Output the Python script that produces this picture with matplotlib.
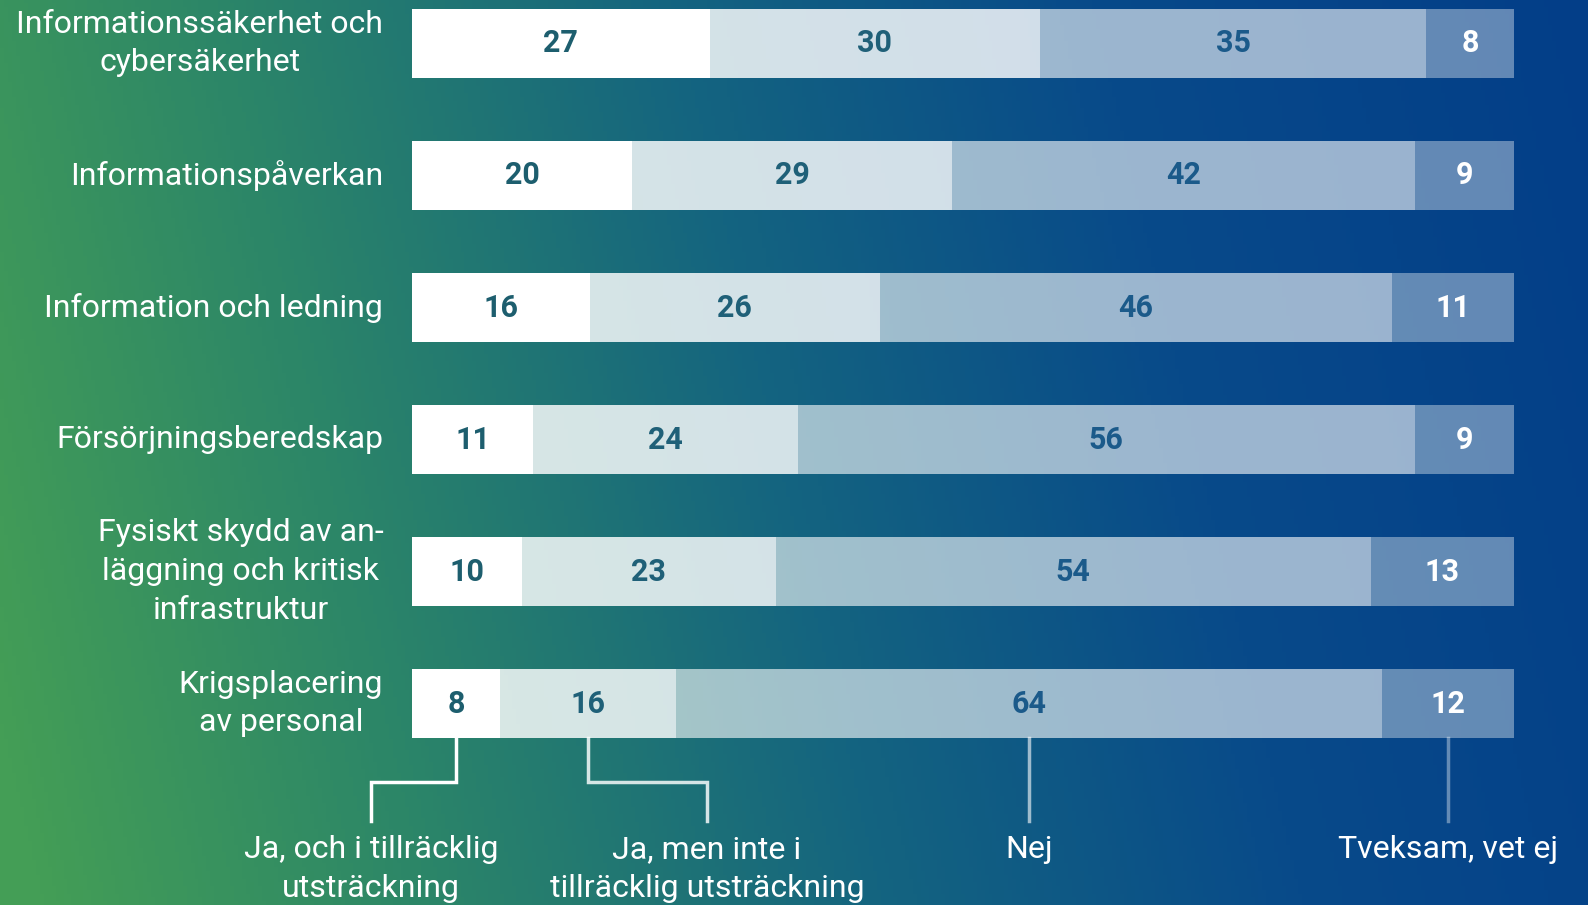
import numpy as np
import matplotlib.pyplot as plt
from matplotlib.colors import LinearSegmentedColormap

plt.rcParams['font.family'] = ['Roboto', 'DejaVu Sans']

# Data
categories = [
    "Informationssäkerhet och\ncybersäkerhet",
    "Informationspåverkan",
    "Information och ledning",
    "Försörjningsberedskap",
    "Fysiskt skydd av an-\nläggning och kritisk\ninfrastruktur",
    "Krigsplacering\nav personal",
]
ja_och = [27, 20, 16, 11, 10, 8]
ja_men = [30, 29, 26, 24, 23, 16]
nej = [35, 42, 46, 56, 54, 64]
tveksam = [8, 9, 11, 9, 13, 12]
series_names = ["Ja, och i tillräcklig\nutsträckning", "Ja, men inte i\ntillräcklig utsträckning",
                "Nej", "Tveksam, vet ej"]

# Styles: segments are white with decreasing opacity over the background
seg_alpha = [1.0, 0.82, 0.6, 0.38]
num_colors = ["#1d5e6e", "#1f6078", "#1b5a8a", "white"]

W, H = 1588, 905
fig = plt.figure(figsize=(W / 100, H / 100), dpi=100)

# background gradient
bg = fig.add_axes([0, 0, 1, 1])
bg_cmap = LinearSegmentedColormap.from_list("bg", [
    (0.0, (68/255, 158/255, 86/255)),
    (0.22, (44/255, 134/255, 104/255)),
    (0.48, (20/255, 100/255, 128/255)),
    (0.72, (8/255, 74/255, 138/255)),
    (1.0, (3/255, 62/255, 136/255)),
])
xx, yy = np.meshgrid(np.linspace(0, 1, 400), np.linspace(0, 1, 240))
grad = np.clip(0.9 * xx + 0.12 * (1 - yy) - 0.02, 0, 1)
bg.imshow(grad, cmap=bg_cmap, aspect='auto', extent=[0, 1, 0, 1], origin='upper', vmin=0, vmax=1)
bg.axis('off')

# chart axes
ax = fig.add_axes([412 / W, 0, 1102 / W, 1])
ax.set_facecolor('none')
n = len(categories)
y = np.arange(n)
ax.set_xlim(0, 100)
ax.set_ylim((H - 43.5) / 132, -43.5 / 132)
bar_h = 0.523

series = [np.array(s, dtype=float) for s in [ja_och, ja_men, nej, tveksam]]
totals = sum(series)
left = np.zeros(n)
for k, vals in enumerate(series):
    widths = vals / totals * 100  # rows are scaled to fill 100 %
    ax.barh(y, widths, left=left, height=bar_h, color='white', alpha=seg_alpha[k], linewidth=0)
    for i in range(n):
        ax.text(left[i] + widths[i] / 2, y[i], str(int(vals[i])), ha='center', va='center',
                fontsize=22, fontweight='bold', color=num_colors[k])
    left = left + widths

# category labels
for i, cat in enumerate(categories):
    ax.text(-2.6, y[i], cat, ha='right', va='center', multialignment='center',
            fontsize=23, color='white', linespacing=1.42, clip_on=False)

# leader lines for the legend (from the last bar)
last = n - 1
bar_bottom = last + bar_h / 2
last_w = np.array([s[last] for s in series]) / totals[last] * 100
starts = np.concatenate([[0], np.cumsum(last_w)[:-1]])
mids = starts + last_w / 2
knee = (782 - 43.5) / 132
end = (821 - 43.5) / 132
label_x = [(371 - 412) / 11.02, (707 - 412) / 11.02, mids[2], mids[3]]
for k in range(4):
    col = (1, 1, 1, seg_alpha[k])
    if k < 2:
        xs = [mids[k], mids[k], label_x[k], label_x[k]]
        ys = [bar_bottom, knee, knee, end]
    else:
        xs = [mids[k], mids[k]]
        ys = [bar_bottom, end]
    ax.plot(xs, ys, color=col, lw=2.5, clip_on=False, solid_joinstyle='miter')
    ax.text(label_x[k], (835 - 43.5) / 132, series_names[k], ha='center', va='top',
            fontsize=23, color='white', linespacing=1.42, clip_on=False)

ax.axis('off')
fig.savefig("out.png", dpi=100)
